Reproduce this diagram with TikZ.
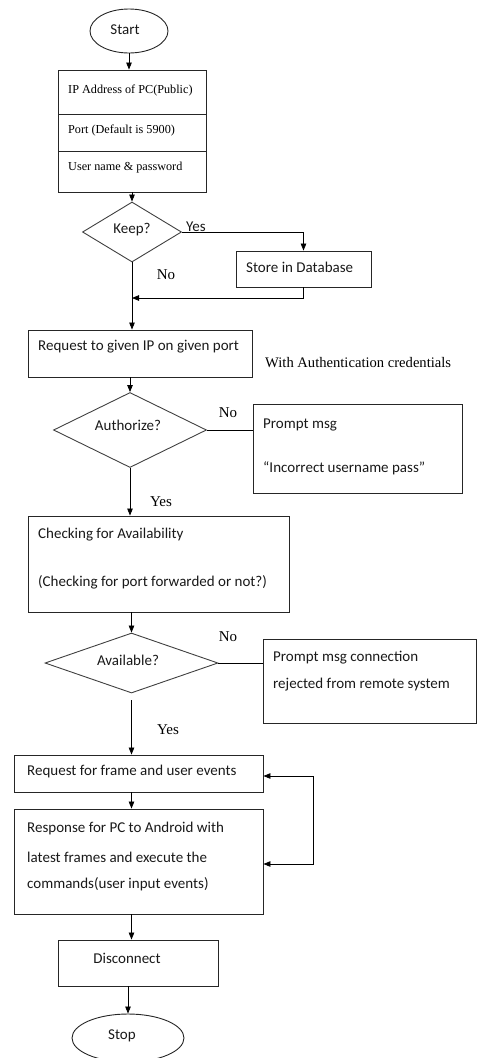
\documentclass[tikz,border=0pt]{standalone}
\usepackage{fontspec}
\setmainfont{Liberation Serif}
\newfontfamily\calib{Carlito}
\usetikzlibrary{shapes.geometric,arrows.meta}

\begin{document}
\begin{tikzpicture}[
  x=1pt, y=-1pt,
  every node/.style={inner sep=0pt},
  box/.style={draw, line width=0.9pt, black!85},
  term/.style={ellipse, draw, line width=0.9pt, black!85},
  decide/.style={diamond, draw, line width=0.9pt, black!75},
  sans/.style={font=\calib\fontsize{15}{18}\selectfont, text=black!90},
  serif/.style={font=\fontsize{12.2}{14}\selectfont},
  lbl/.style={font=\fontsize{15}{18}\selectfont},
  arr/.style={line width=0.8pt, -{Triangle[length=7pt,width=5.5pt]}},
  link/.style={line width=0.8pt}
]
\useasboundingbox (0,0) rectangle (477,1058);

% terminals and boxes
\node[term, minimum width=78pt, minimum height=44pt] (start) at (129,31) {};
\node[sans] (starttxt) at (125,30) {Start};

\node[box, minimum width=148pt, minimum height=44pt] (in1) at (132,92) {};
\node[box, minimum width=148pt, minimum height=37pt] (in2) at (132,132.5) {};
\node[box, minimum width=148pt, minimum height=41pt] (in3) at (132,171.5) {};
\node[serif, anchor=west] (in1txt) at (68,90) {IP Address of PC(Public)};
\node[serif, anchor=west] (in2txt) at (68,130) {Port (Default is 5900)};
\node[serif, anchor=west] (in3txt) at (68,168) {User name \& password};

\node[decide, minimum width=99pt, minimum height=60pt] (keep) at (132,232) {};
\node[sans] (keeptxt) at (132,230) {Keep?};

\node[box, minimum width=135pt, minimum height=36pt] (store) at (303.5,269) {};
\node[sans, anchor=west] (storetxt) at (246,267) {Store in Database};

\node[box, minimum width=224pt, minimum height=47pt] (req) at (140,353.5) {};
\node[sans, anchor=west] (reqtxt) at (38,347) {Request to given IP on given port};
\node[lbl, anchor=west, font=\fontsize{14.6}{17}\selectfont] (auth-cred) at (265,363) {With Authentication credentials};

\node[decide, minimum width=153pt, minimum height=75pt] (auth) at (130,430) {};
\node[sans] (authtxt) at (128,425) {Authorize?};

\node[box, minimum width=209pt, minimum height=89pt] (prompt1) at (357.5,448.5) {};
\node[sans, anchor=west] (p1a) at (263,425) {Prompt msg};
\node[sans, anchor=west] (p1b) at (263,468) {“Incorrect username pass”};

\node[box, minimum width=261pt, minimum height=96pt] (check) at (158.5,564) {};
\node[sans, anchor=west] (chka) at (38,535) {Checking for Availability};
\node[sans, anchor=west] (chkb) at (38,582) {(Checking for port forwarded or not?)};

\node[decide, minimum width=173pt, minimum height=60pt] (avail) at (131.5,663) {};
\node[sans] (availtxt) at (128,660) {Available?};

\node[box, minimum width=213pt, minimum height=84pt] (prompt2) at (369.5,681) {};
\node[sans, anchor=west] (p2a) at (273,658) {Prompt msg connection};
\node[sans, anchor=west] (p2b) at (273,685) {rejected from remote system};

\node[box, minimum width=249pt, minimum height=37pt] (frame) at (138.5,773.5) {};
\node[sans, anchor=west] (frametxt) at (27,771) {Request for frame and user events};

\node[box, minimum width=249pt, minimum height=105pt] (resp) at (138.5,861.5) {};
\node[sans, anchor=west] (respa) at (27,828) {Response for PC to Android with};
\node[sans, anchor=west] (respb) at (27,857) {latest frames and execute the};
\node[sans, anchor=west] (respc) at (27,884) {commands(user input events)};

\node[box, minimum width=160pt, minimum height=46pt] (disc) at (138,963) {};
\node[sans] (disctxt) at (127,958) {Disconnect};

\node[term, minimum width=112pt, minimum height=48pt] (stop) at (128,1038) {};
\node[sans] (stoptxt) at (122,1036) {Stop};

% yes / no labels
\node[sans] (yes1) at (196,227) {Yes};
\node[lbl] (no1) at (166,275) {No};
\node[lbl] (no2) at (228,413) {No};
\node[lbl] (yes2) at (161,502) {Yes};
\node[lbl] (no3) at (228,637) {No};
\node[lbl] (yes3) at (168,730) {Yes};

\coordinate (merge) at (132,298);
\coordinate (loopa) at (313,776);
\coordinate (loopb) at (313,864);

% connectors
\draw[arr] (start) -- (start |- in1.north);
\draw[arr] (in3) -- (keep);
\draw[arr] (keep.east) -| (store.north);
\draw[arr] (store.south) |- (merge);
\draw[arr] (keep.south) -- (keep.south |- req.north);
\draw[arr] (req.south -| auth) -- (auth.north);
\draw[link] (auth.east) -- (auth.east -| prompt1.west);
\draw[arr] (auth.south) -- (auth.south |- check.north);
\draw[arr] (check.south -| avail) -- (avail.north);
\draw[link] (avail.east) -- (avail.east -| prompt2.west);
\draw[arr, shorten <=7pt] (avail.south) -- (avail.south |- frame.north);
\draw[arr] (avail |- frame.south) -- (avail |- resp.north);
\draw[arr] (loopa) -- (frame.east |- loopa);
\draw[arr] (loopa) -- (loopb) -- (resp.east |- loopb);
\draw[arr] (avail |- resp.south) -- (avail |- disc.north);
\draw[arr] (disc.south -| stop) -- (stop.north);
\end{tikzpicture}
\end{document}
